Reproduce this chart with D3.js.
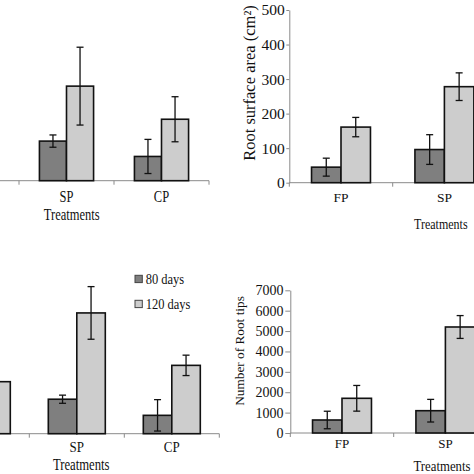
<!DOCTYPE html>
<html><head><meta charset="utf-8">
<script src="https://cdn.jsdelivr.net/npm/d3@7"></script>
<style>body{margin:0;background:#fff} svg{display:block}</style>
</head><body><svg id="c" width="474" height="474"></svg>
<script>
const categories = ["FP", "SP", "CP"];
const seriesNames = ["80 days", "120 days"];
const xTitle = "Treatments";

// top-left panel (its y axis lies outside the visible crop)
const tlDays80  = [null, 116, 71];
const tlDays120 = [null, 277, 180];
const tlErr80   = [null, 18, 50];
const tlErr120  = [null, 114, 66];

// top-right panel: root surface area (cm²)
const saDays80  = [45, 96, null];
const saDays120 = [161, 278, null];
const saErr80   = [26, 43, null];
const saErr120  = [28, 40, null];
const saTicks   = [0, 100, 200, 300, 400, 500];

// bottom-left panel (its y axis lies outside the visible crop)
const blDays80  = [null, 1.69, 0.9];
const blDays120 = [2.55, 5.92, 3.35];
const blErr80   = [null, 0.2, 0.77];
const blErr120  = [null, 1.29, 0.5];

// bottom-right panel: number of root tips
const rtDays80  = [638, 1094, null];
const rtDays120 = [1702, 5200, null];
const rtErr80   = [430, 555, null];
const rtErr120  = [630, 560, null];
const rtTicks   = [0, 1000, 2000, 3000, 4000, 5000, 6000, 7000];

const fills = ["#7f7f7f", "#cdcdcd"];
const axisColor = "#8a8a8a";
const textColor = "#111";
const font = "'Liberation Serif','Times New Roman',serif";
const W = 474;

const svg = d3.select("#c");

const panels = [
  {vals:[tlDays80, tlDays120], errs:[tlErr80, tlErr120], xr:[-76, 209], yr:[180.7, 10], dom:[0,500], ticks:null,
   group:0.57, catDy:21, catFs:12.5, catSy:1.3, title:{x:71.7, y:220, fs:12.5, sy:1.3}},
  {vals:[saDays80, saDays120], errs:[saErr80, saErr120], xr:[289.3, 599.5], yr:[182.7, 10], dom:[0,500], ticks:saTicks,
   tickFs:15.5, tickSize:3, tickPad:1.5, group:0.57, catDy:19.5, catFs:13.5, catSy:1.0,
   title:{x:440.8, y:229, fs:12, sy:1.3}, ylab:{text:"Root surface area (cm²)", x:249.5, y:83, fs:16.5}},
  {vals:[blDays80, blDays120], errs:[blErr80, blErr120], xr:[-65.7, 219.3], yr:[433.7, 270.5], dom:[0,8], ticks:null,
   group:0.6, catDy:18.3, catFs:13, catSy:1.15, title:{x:81.2, y:470.3, fs:12.7, sy:1.25}},
  {vals:[rtDays80, rtDays120], errs:[rtErr80, rtErr120], xr:[290.3, 600.5], yr:[433, 290.3], dom:[0,7000], ticks:rtTicks,
   tickFs:14, tickSize:5, tickPad:1.7, group:0.57, catDy:14.7, catFs:13, catSy:1.0,
   title:{x:442, y:470.5, fs:12.8, sy:1.15}, ylab:{text:"Number of Root tips", x:239.5, y:351, fs:13.3}}
];

panels.forEach(p => {
  const g = svg.append("g");
  const x = d3.scaleBand().domain(categories).range(p.xr);
  const y = d3.scaleLinear().domain(p.dom).range(p.yr);
  const bw = x.bandwidth();
  const gw = bw * p.group;
  const x1 = d3.scaleBand().domain(seriesNames).range([(bw - gw) / 2, (bw + gw) / 2]);
  const base = y(0);

  // x axis line + boundary ticks
  g.append("line").attr("x1", p.xr[0]).attr("x2", p.xr[1]).attr("y1", base).attr("y2", base)
    .attr("stroke", axisColor).attr("stroke-width", 1);
  const bounds = categories.map(c => x(c)).concat([p.xr[1]]);
  g.selectAll("line.bt").data(bounds).join("line").attr("class", "bt")
    .attr("x1", d => d).attr("x2", d => d).attr("y1", base).attr("y2", base + 4)
    .attr("stroke", axisColor).attr("stroke-width", 1);

  // y axis
  if (p.ticks) {
    const ax = g.append("g").attr("transform", `translate(${p.xr[0]},0)`)
      .call(d3.axisLeft(y).tickValues(p.ticks).tickFormat(d3.format("d"))
        .tickSize(p.tickSize).tickPadding(p.tickPad).tickSizeOuter(0));
    ax.select(".domain").attr("stroke", axisColor);
    ax.selectAll(".tick line").attr("stroke", axisColor);
    ax.selectAll(".tick text").attr("fill", textColor).style("font-family", font).style("font-size", p.tickFs + "px");
  }

  // bars
  seriesNames.forEach((s, si) => {
    const rows = categories.map((c, ci) => ({c, v: p.vals[si][ci], e: p.errs[si][ci]})).filter(d => d.v != null);
    g.selectAll(null).data(rows).join("rect")
      .attr("x", d => x(d.c) + x1(s)).attr("width", x1.bandwidth())
      .attr("y", d => y(d.v)).attr("height", d => base - y(d.v))
      .attr("fill", fills[si]).attr("stroke", "#111").attr("stroke-width", 1.6);
  });
  // error bars
  seriesNames.forEach((s, si) => {
    const rows = categories.map((c, ci) => ({c, v: p.vals[si][ci], e: p.errs[si][ci]})).filter(d => d.v != null && d.e != null);
    const cx = d => x(d.c) + x1(s) + x1.bandwidth() / 2;
    const eg = g.selectAll(null).data(rows).join("g").attr("stroke", "#111").attr("stroke-width", 1.3);
    eg.append("line").attr("x1", cx).attr("x2", cx).attr("y1", d => y(d.v + d.e)).attr("y2", d => y(d.v - d.e));
    eg.append("line").attr("x1", d => cx(d) - 3.5).attr("x2", d => cx(d) + 3.5).attr("y1", d => y(d.v + d.e)).attr("y2", d => y(d.v + d.e));
    eg.append("line").attr("x1", d => cx(d) - 3.5).attr("x2", d => cx(d) + 3.5).attr("y1", d => y(d.v - d.e)).attr("y2", d => y(d.v - d.e));
  });

  // category labels (only those whose position falls inside the visible crop)
  const visibleCats = categories.filter(c => x(c) + bw / 2 > 10 && x(c) + bw / 2 < W - 10);
  g.selectAll(null).data(visibleCats).join("text")
    .attr("transform", d => `translate(${x(d) + bw / 2},${base + p.catDy}) scale(1,${p.catSy})`)
    .attr("text-anchor", "middle").attr("fill", textColor)
    .style("font-family", font).style("font-size", p.catFs + "px").text(d => d);

  // x title
  g.append("text").attr("transform", `translate(${p.title.x},${p.title.y}) scale(1,${p.title.sy})`)
    .attr("text-anchor", "middle").attr("fill", textColor)
    .style("font-family", font).style("font-size", p.title.fs + "px").text(xTitle);

  if (p.ylab) {
    g.append("text").attr("transform", `translate(${p.ylab.x},${p.ylab.y}) rotate(-90)`)
      .attr("text-anchor", "middle").attr("dominant-baseline", "central").attr("fill", textColor)
      .style("font-family", font).style("font-size", p.ylab.fs + "px").text(p.ylab.text);
  }
});

// legend
const leg = svg.append("g");
const legY = d3.scalePoint().domain(seriesNames).range([279, 304]);
seriesNames.forEach((s, i) => {
  leg.append("rect").attr("x", 135).attr("y", legY(s) - 3.7).attr("width", 7.3).attr("height", 7.3)
    .attr("fill", fills[i]).attr("stroke", "#444").attr("stroke-width", 1);
  leg.append("text").attr("transform", `translate(145.7,${legY(s) + 4.5}) scale(1,1.2)`)
    .attr("fill", textColor).style("font-family", font).style("font-size", "12.5px").text(s);
});
</script></body></html>
